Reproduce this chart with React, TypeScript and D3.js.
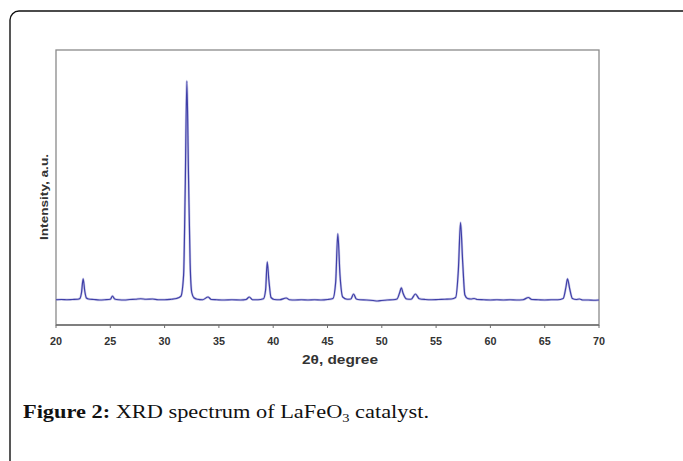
import * as d3 from 'd3'

const TWO_THETA = [
  20.0, 20.5, 21.0, 21.5, 22.0, 22.2, 22.35, 22.5, 22.65, 22.8, 23.0, 23.5, 24.0, 24.5,
  25.0, 25.2, 25.4, 25.8, 26.3, 26.8, 27.3, 27.8, 28.3, 28.9, 29.4, 30.0, 30.6, 31.1,
  31.5, 31.75, 31.9, 32.05, 32.2, 32.35, 32.5, 32.7, 33.0, 33.5, 34.0, 34.3, 34.8, 35.5,
  36.2, 37.0, 37.5, 37.8, 38.1, 38.6, 39.1, 39.3, 39.45, 39.6, 39.8, 40.1, 40.6, 41.2,
  41.5, 42.0, 42.6, 43.2, 43.8, 44.4, 45.0, 45.5, 45.75, 45.95, 46.15, 46.4, 46.8, 47.15,
  47.4, 47.65, 48.0, 48.6, 49.2, 49.6, 50.0, 50.5, 51.0, 51.4, 51.65, 51.8, 51.95, 52.3,
  52.7, 53.1, 53.45, 54.0, 54.6, 55.2, 55.8, 56.4, 56.8, 57.05, 57.25, 57.45, 57.65, 57.9,
  58.2, 58.5, 58.8, 59.4, 60.0, 60.6, 61.2, 61.8, 62.4, 63.0, 63.5, 63.8, 64.4, 65.0,
  65.6, 66.2, 66.7, 66.95, 67.1, 67.3, 67.55, 67.9, 68.2, 68.5, 69.0, 69.5, 70.0
]
const INTENSITY = [
  101, 102, 101, 102, 103, 106, 130, 185, 135, 108, 104, 102, 100, 101,
  103, 116, 104, 101, 100, 102, 103, 105, 103, 104, 101, 101, 103, 106,
  115, 200, 550, 976, 600, 250, 130, 109, 103, 101, 112, 102, 101, 100,
  101, 100, 102, 112, 101, 101, 105, 140, 253, 180, 110, 102, 101, 108,
  101, 100, 101, 100, 101, 100, 102, 106, 170, 365, 200, 112, 103, 104,
  124, 104, 101, 100, 98, 96, 98, 100, 101, 104, 130, 149, 128, 104,
  103, 124, 105, 102, 101, 102, 103, 104, 110, 220, 410, 250, 120, 106,
  104, 106, 102, 101, 100, 101, 100, 101, 100, 101, 110, 102, 101, 100,
  101, 101, 106, 150, 185, 145, 106, 102, 104, 100, 100, 99, 100
]
const X_TICKS = [20, 25, 30, 35, 40, 45, 50, 55, 60, 65, 70]

const W = 683
const H = 461
const plot = { left: 56, right: 599, top: 50, bottom: 325 }
const SANS = 'Liberation Sans, Arial, sans-serif'

export default function App() {
  const x = d3.scaleLinear().domain([20, 70]).range([plot.left, plot.right])
  const y = d3.scaleLinear().domain([0, 1100]).range([plot.bottom, plot.top])

  const points: [number, number][] = TWO_THETA.map((t, i) => [t, INTENSITY[i]])
  const line = d3.line<[number, number]>()
    .x(d => x(d[0]))
    .y(d => y(d[1]))
    .curve(d3.curveMonotoneX)
  const path = line(points) || ''

  return (
    <svg width={W} height={H} style={{ position: 'absolute', left: 0, top: 0, background: '#fff' }}>
      {/* outer figure frame */}
      <rect x={10} y={11} width={690} height={470} rx={9} fill="none" stroke="#111" strokeWidth={1.4} />

      {/* plot box */}
      <rect x={plot.left} y={plot.top} width={plot.right - plot.left} height={plot.bottom - plot.top}
        fill="none" stroke="#8a8a8a" strokeWidth={1.3} />
      <line x1={plot.left} x2={plot.right} y1={plot.bottom} y2={plot.bottom} stroke="#6e6e6e" strokeWidth={1.5} />

      {/* x ticks */}
      {X_TICKS.map(t => (
        <g key={t}>
          <line x1={x(t)} x2={x(t)} y1={plot.bottom} y2={plot.bottom + 3} stroke="#6e6e6e" strokeWidth={1} />
          <text x={x(t)} y={345} textAnchor="middle" fontFamily={SANS}
            fontWeight="bold" fontSize={10.5} fill="#333"
            textLength={12} lengthAdjust="spacingAndGlyphs">{t}</text>
        </g>
      ))}

      <text x={340} y={364} textAnchor="middle" fontFamily={SANS} fontWeight="bold" fontSize={13} fill="#333"
        textLength={76} lengthAdjust="spacingAndGlyphs">
        2θ, degree
      </text>

      <text transform="translate(48,197) rotate(-90)" textAnchor="middle"
        fontFamily={SANS} fontWeight="bold" fontSize={10.5} fill="#333"
        textLength={86} lengthAdjust="spacingAndGlyphs">
        Intensity,  a.u.
      </text>

      {/* pattern */}
      <path d={path} fill="none" stroke="#9a9ad6" strokeWidth={2.4} strokeOpacity={0.5} />
      <path d={path} fill="none" stroke="#3f3fa8" strokeWidth={1.2} />

      {/* caption */}
      <text x={23} y={418} fontFamily="Liberation Serif, 'DejaVu Serif', serif" fontSize={18.5} fill="#111"
        textLength={406} lengthAdjust="spacingAndGlyphs">
        <tspan fontWeight="bold">Figure 2:</tspan>
        <tspan> XRD spectrum of LaFeO</tspan>
        <tspan fontSize={12} dy={4}>3</tspan>
        <tspan dy={-4}> catalyst.</tspan>
      </text>
    </svg>
  )
}
